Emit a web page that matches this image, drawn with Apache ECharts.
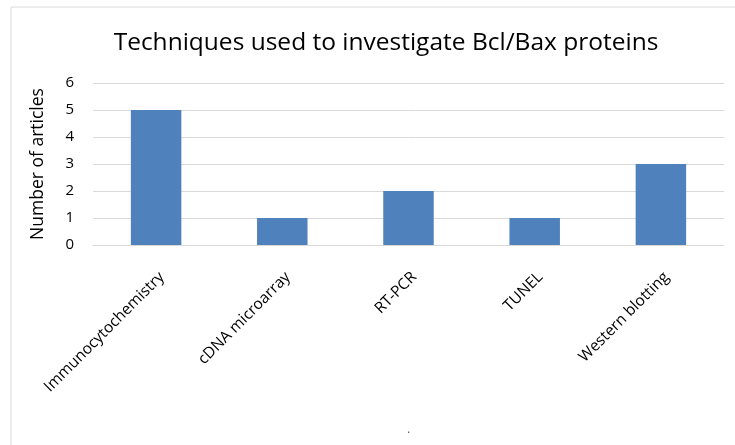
<!DOCTYPE html>
<html>
<head>
<meta charset="utf-8">
<script src="https://cdn.jsdelivr.net/npm/echarts@6/dist/echarts.min.js"></script>
<style>
  html, body { margin: 0; padding: 0; background: #fff; }
  #chart { width: 735px; height: 445px; }
</style>
</head>
<body>
<div id="chart"></div>
<script>
// chart data
const techniques = ['Immunocytochemistry', 'cDNA microarray', 'RT-PCR', 'TUNEL', 'Western blotting']
const articleCounts = [5, 1, 2, 1, 3]
const yTicks = { min: 0, max: 6, interval: 1 }

const chart = echarts.init(document.getElementById('chart'))

chart.setOption({
  backgroundColor: '#fff',
  textStyle: { fontFamily: 'Open Sans' },
  title: {
    text: 'Techniques used to investigate Bcl/Bax proteins',
    left: 381,
    top: 26,
    textAlign: 'center',
    textStyle: { fontSize: 24.5, fontWeight: 'normal', color: '#000', fontFamily: 'Open Sans' },
  },
  graphic: [
    {
      type: 'rect',
      shape: { x: 11, y: 7, width: 760, height: 460 },
      style: { fill: 'none', stroke: '#d9d9d9', lineWidth: 1 },
      silent: true,
    },
    {
      type: 'text',
      left: 407,
      top: 424,
      style: { text: '.', fill: '#595959', fontSize: 12 },
    },
  ],
  grid: { left: 93, right: 11, top: 83, bottom: 200, containLabel: false },
  xAxis: {
    type: 'category',
    data: techniques,
    axisLine: { show: true, lineStyle: { color: '#d9d9d9' } },
    axisTick: { show: false },
    axisLabel: {
      rotate: 45,
      interval: 0,
      margin: 24,
      fontSize: 15.5,
      verticalAlign: 'top',
      color: '#000',
    },
  },
  yAxis: {
    type: 'value',
    min: yTicks.min,
    max: yTicks.max,
    interval: yTicks.interval,
    name: 'Number of articles',
    nameLocation: 'middle',
    nameGap: 46,
    nameTextStyle: { fontSize: 17.5, color: '#000' },
    axisLine: { show: false },
    axisTick: { show: false },
    axisLabel: { fontSize: 15, color: '#000', margin: 19 },
    splitLine: { lineStyle: { color: '#d9d9d9', width: 1 } },
  },
  series: [
    {
      type: 'bar',
      data: articleCounts,
      barWidth: '40%',
      itemStyle: { color: '#4f81bd' },
    },
  ],
})
</script>
</body>
</html>
